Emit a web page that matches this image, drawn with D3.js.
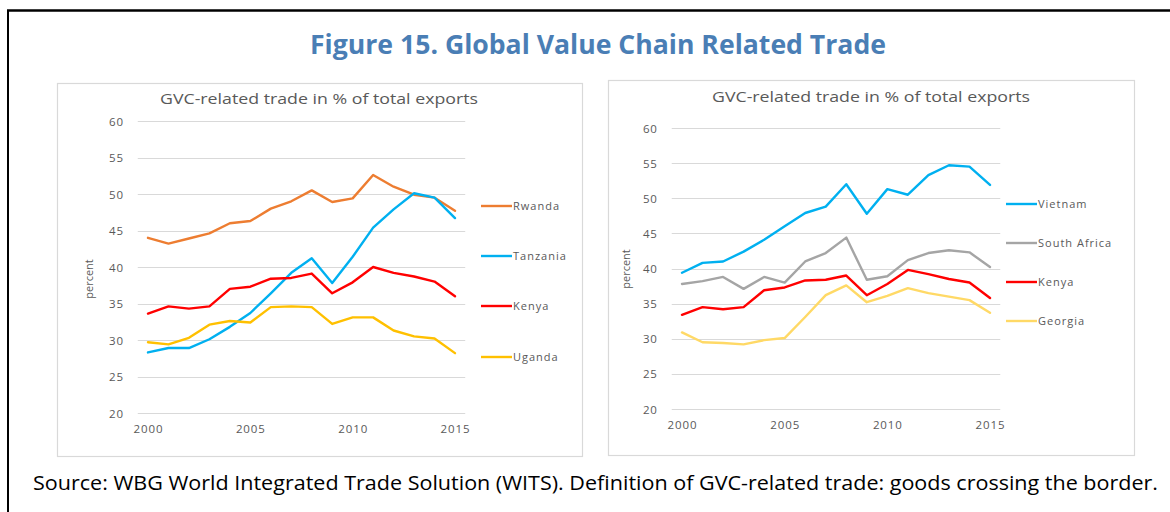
<!DOCTYPE html>
<html>
<head>
<meta charset="utf-8">
<script src="https://cdn.jsdelivr.net/npm/d3@7"></script>
<style>
  body { margin: 0; background: #fff; }
  svg text { font-family: "Open Sans", "Noto Sans", sans-serif; }
</style>
</head>
<body>
<div class="cont"></div>
<script>
var w = 1170,
h = 512;

// data
var years = [2000, 2001, 2002, 2003, 2004, 2005, 2006, 2007, 2008, 2009, 2010, 2011, 2012, 2013, 2014, 2015];
var yTicks = [20, 25, 30, 35, 40, 45, 50, 55, 60];
var xTicks = [2000, 2005, 2010, 2015];

var rwanda   = [44.0, 43.2, 43.9, 44.6, 46.0, 46.3, 48.0, 49.0, 50.5, 48.9, 49.4, 52.6, 51.0, 49.9, 49.5, 47.7];
var tanzania = [28.3, 28.9, 28.9, 30.1, 31.8, 33.7, 36.4, 39.2, 41.2, 37.8, 41.4, 45.4, 47.9, 50.1, 49.5, 46.7];
var kenya    = [33.6, 34.6, 34.3, 34.6, 37.0, 37.3, 38.4, 38.5, 39.1, 36.4, 37.9, 40.0, 39.2, 38.7, 38.0, 36.0];
var uganda   = [29.7, 29.4, 30.3, 32.1, 32.6, 32.4, 34.5, 34.6, 34.5, 32.2, 33.1, 33.1, 31.3, 30.5, 30.2, 28.2];

var vietnam     = [39.4, 40.8, 41.0, 42.4, 44.1, 46.0, 47.9, 48.8, 52.0, 47.8, 51.3, 50.5, 53.3, 54.7, 54.5, 51.9];
var southAfrica = [37.8, 38.2, 38.8, 37.1, 38.8, 38.0, 41.0, 42.2, 44.4, 38.4, 38.9, 41.2, 42.2, 42.6, 42.3, 40.2];
var kenya2      = [33.4, 34.5, 34.2, 34.5, 36.9, 37.3, 38.3, 38.4, 39.0, 36.2, 37.8, 39.8, 39.2, 38.5, 38.0, 35.8];
var georgia     = [30.9, 29.5, 29.4, 29.2, 29.8, 30.1, 33.1, 36.2, 37.6, 35.2, 36.1, 37.2, 36.5, 36.0, 35.5, 33.7];

var leftNames = ["Rwanda", "Tanzania", "Kenya", "Uganda"];
var leftColors = ["#ED7D31", "#00B0F0", "#FF0000", "#FFC000"];
var rightNames = ["Vietnam", "South Africa", "Kenya", "Georgia"];
var rightColors = ["#00B0F0", "#A5A5A5", "#FF0000", "#FFD966"];

var svg = d3.select(".cont").append("svg").
attr("width", w).
attr("height", h);

// outer frame
svg.append("line").attr("x1", 8).attr("x2", 8).attr("y1", 10).attr("y2", h).
attr("stroke", "#000").attr("stroke-width", 2);
svg.append("line").attr("x1", 7).attr("x2", w).attr("y1", 10.5).attr("y2", 10.5).
attr("stroke", "#000").attr("stroke-width", 2.5);

svg.append("text").
attr("x", 598).attr("y", 54).
attr("text-anchor", "middle").
attr("fill", "#4A7EB5").
attr("font-size", 26).
attr("font-weight", "bold").
attr("textLength", 576).
attr("lengthAdjust", "spacingAndGlyphs").
text("Figure 15. Global Value Chain Related Trade");

svg.append("text").
attr("x", 33).attr("y", 490).
attr("fill", "#000").
attr("font-size", 20).
attr("textLength", 1125).
attr("lengthAdjust", "spacingAndGlyphs").
text("Source: WBG World Integrated Trade Solution (WITS). Definition of GVC-related trade: goods crossing the border.");

function drawPanel(cfg) {
  var g = svg.append("g");

  g.append("rect").
  attr("x", cfg.box[0] + 0.5).attr("y", cfg.box[1] + 0.5).
  attr("width", cfg.box[2] - cfg.box[0]).attr("height", cfg.box[3] - cfg.box[1]).
  attr("fill", "#fff").attr("stroke", "#D9D9D9").attr("stroke-width", 1.2);

  var x = d3.scaleLinear().domain([2000, 2015]).range(cfg.xr);
  var y = d3.scaleLinear().domain([20, 60]).range(cfg.yr);

  g.append("text").
  attr("x", cfg.titleX).attr("y", cfg.titleY).
  attr("text-anchor", "middle").
  attr("fill", "#595959").
  attr("font-size", 14.5).
  attr("textLength", 318).
  attr("lengthAdjust", "spacingAndGlyphs").
  text("GVC-related trade in % of total exports");

  // grid
  g.append("g").selectAll("line").
  data(yTicks).
  enter().append("line").
  attr("x1", x(1999.5)).attr("x2", x(2015.5)).
  attr("y1", function (d) {return Math.round(y(d)) + 0.5;}).
  attr("y2", function (d) {return Math.round(y(d)) + 0.5;}).
  attr("stroke", "#D9D9D9").attr("stroke-width", 1);

  var yAxis = d3.axisLeft(y).tickValues(yTicks).tickSize(0).tickPadding(0);
  var ya = g.append("g").attr("transform", "translate(" + (x(1999.5) - 14) + ",0)").call(yAxis);
  ya.select(".domain").remove();
  ya.selectAll("text").attr("fill", "#595959").attr("font-size", 11.5).
  attr("letter-spacing", 0.8).attr("font-family", null).attr("dy", "0.35em");

  var xAxis = d3.axisBottom(x).tickValues(xTicks).tickSize(0).tickPadding(0).
  tickFormat(function (d) {return d;});
  var xa = g.append("g").attr("transform", "translate(0," + cfg.xLabelY + ")").call(xAxis);
  xa.select(".domain").remove();
  xa.selectAll("text").attr("fill", "#595959").attr("font-size", 11.5).
  attr("letter-spacing", 0.9).attr("font-family", null).attr("dy", "0.35em");

  g.append("text").
  attr("transform", "translate(" + cfg.pctX + "," + cfg.pctY + ") rotate(-90)").
  attr("text-anchor", "middle").
  attr("fill", "#595959").
  attr("font-size", 11).
  text("percent");

  var line = d3.line().
  x(function (d, i) {return x(years[i]);}).
  y(function (d) {return y(d);});

  g.append("g").selectAll("path").
  data(cfg.series).
  enter().append("path").
  attr("d", function (d) {return line(d);}).
  attr("fill", "none").
  attr("stroke", function (d, i) {return cfg.colors[i];}).
  attr("stroke-width", 2.4).
  attr("stroke-linejoin", "round").
  attr("stroke-linecap", "round");

  var leg = g.append("g").selectAll("g").
  data(cfg.names).
  enter().append("g").
  attr("transform", function (d, i) {return "translate(" + cfg.legX + "," + cfg.legY[i] + ")";});
  leg.append("line").
  attr("x1", 0).attr("x2", 31).
  attr("stroke", function (d, i) {return cfg.colors[i];}).
  attr("stroke-width", 2.4);
  leg.append("text").
  attr("x", 32).attr("dy", "0.35em").
  attr("fill", "#595959").
  attr("font-size", 11).
  attr("letter-spacing", 1).
  text(function (d) {return d;});
}

drawPanel({
  box: [57, 83, 582, 456],
  xr: [148, 455],
  yr: [413, 121],
  titleX: 319, titleY: 104,
  xLabelY: 429,
  pctX: 93, pctY: 279,
  series: [rwanda, tanzania, kenya, uganda],
  names: leftNames,
  colors: leftColors,
  legX: 481,
  legY: [206, 256, 306, 357]
});

drawPanel({
  box: [608, 80, 1134, 455],
  xr: [682, 990],
  yr: [409, 128],
  titleX: 871, titleY: 102,
  xLabelY: 425,
  pctX: 630, pctY: 269,
  series: [vietnam, southAfrica, kenya2, georgia],
  names: rightNames,
  colors: rightColors,
  legX: 1006,
  legY: [204, 243, 282, 321]
});
</script>
</body>
</html>
